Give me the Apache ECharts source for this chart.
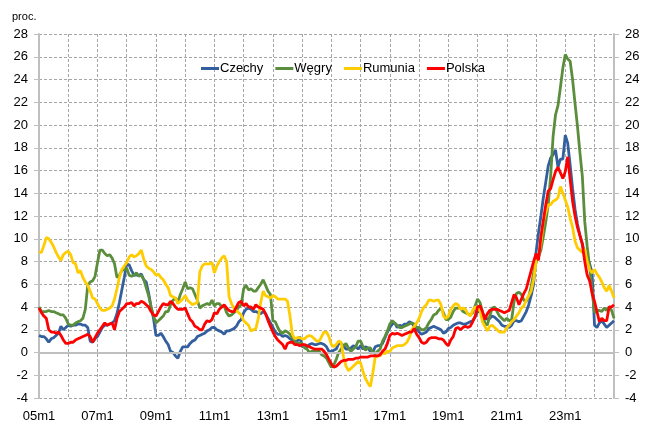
<!DOCTYPE html>
<html>
<head>
<meta charset="utf-8">
<script src="https://cdn.jsdelivr.net/npm/echarts@6/dist/echarts.min.js"></script>
<style>
html,body{margin:0;padding:0;background:#fff;}
#c{width:646px;height:435px;}
</style>
</head>
<body>
<div id="c"></div>
<script>
// Category labels: monthly, 2005m1 .. 2024m9
var startYear = 2005, endYear = 2024, endMonth = 9;
var categories = [];
for (var y = startYear; y <= endYear; y++) {
  for (var m = 1; m <= 12; m++) {
    if (y === endYear && m > endMonth) break;
    categories.push(String(y).slice(2) + 'm' + m);
  }
}

var yTicks = { min: -4, max: 28, step: 2 };

var czechy = [
  1.5, 1.4, 1.4, 1.2, 0.9, 1.2, 1.3, 1.5, 1.7, 2.3, 2.0, 2.2,
  2.4, 2.3, 2.4, 2.4, 2.5, 2.5, 2.4, 2.4, 2.2, 1.0, 0.9, 1.2,
  1.4, 1.8, 2.2, 2.4, 2.4, 2.5, 2.6, 2.8, 3.4, 4.4, 5.5, 6.6,
  7.8, 7.7, 7.2, 6.8, 6.8, 6.8, 6.9, 6.4, 6.2, 5.2, 4.0, 3.0,
  1.5, 1.5, 1.7, 1.4, 1.0, 0.7, 0.1, 0.0, -0.3, -0.5, 0.1, 0.5,
  0.5, 0.5, 0.8, 1.0, 1.1, 1.4, 1.5, 1.6, 1.7, 1.9, 2.0, 2.2,
  2.2, 2.0, 1.9, 1.8, 1.6, 1.9, 1.9, 2.0, 2.1, 2.3, 2.7, 2.9,
  3.5, 3.8, 3.9, 3.8, 3.6, 3.6, 3.5, 3.4, 3.6, 3.4, 3.0, 2.6,
  2.2, 1.8, 1.6, 1.6, 1.4, 1.5, 1.4, 1.2, 1.1, 0.9, 1.0, 1.4,
  0.5, 0.6, 0.5, 0.7, 0.8, 0.7, 0.7, 0.8, 0.8, 0.7, 0.5, 0.1,
  0.1, 0.2, 0.3, 0.8, 0.8, 0.6, 0.3, 0.3, 0.4, 0.6, 0.5, 0.3,
  0.6, 0.3, 0.5, 0.4, 0.1, 0.0, 0.5, 0.6, 0.6, 0.8, 1.3, 1.8,
  2.2, 2.5, 2.6, 2.2, 2.4, 2.3, 2.5, 2.5, 2.7, 2.6, 2.3, 2.1,
  1.8, 1.6, 1.7, 1.8, 2.1, 2.2, 2.3, 2.2, 2.1, 2.0, 1.7, 1.8,
  2.1, 2.2, 2.4, 2.5, 2.6, 2.6, 2.5, 2.5, 2.6, 2.7, 2.8, 3.1,
  3.6, 3.6, 3.4, 3.2, 2.9, 3.0, 3.2, 3.1, 2.9, 2.7, 2.4, 2.3,
  2.3, 2.2, 2.4, 2.8, 2.8, 2.7, 2.8, 3.2, 3.6, 4.2, 5.0, 6.0,
  8.8, 10.5, 12.0, 13.6, 15.0, 16.4, 17.1, 17.4, 17.8, 16.3, 17.0, 17.0,
  19.1, 18.4, 16.5, 14.4, 12.6, 11.3, 10.3, 9.6, 8.6, 8.4, 7.8, 7.0,
  2.4, 2.2, 2.6, 2.8, 2.5, 2.2, 2.4, 2.6, 2.8
];

var wegry = [
  4.0, 3.6, 3.6, 3.6, 3.7, 3.6, 3.6, 3.5, 3.4, 3.3, 3.3, 3.0,
  2.5, 2.4, 2.4, 2.6, 2.7, 2.8, 3.0, 3.8, 5.9, 6.2, 6.3, 6.7,
  7.9, 9.0, 9.0, 8.7, 8.5, 8.6, 8.3, 7.8, 6.6, 6.8, 7.2, 7.3,
  7.4, 6.8, 6.7, 6.8, 7.0, 6.7, 6.8, 6.4, 5.7, 5.0, 4.0, 3.2,
  2.6, 2.8, 3.0, 3.2, 3.6, 3.6, 4.2, 4.6, 4.8, 4.4, 5.1, 5.6,
  6.2, 5.6, 5.7, 5.6, 5.1, 4.6, 3.9, 4.1, 4.2, 4.3, 4.2, 4.6,
  4.1, 4.3, 4.3, 4.0, 4.1, 3.5, 3.2, 3.3, 3.5, 3.7, 4.0, 4.2,
  5.6, 5.9, 5.5, 5.6, 5.4, 5.4, 5.7, 6.0, 6.4, 5.9, 5.4, 5.1,
  2.8, 2.7, 2.2, 1.8, 1.7, 1.9, 1.8, 1.6, 1.3, 1.0, 0.8, 0.8,
  0.8, 0.4, 0.3, 0.0, 0.1, 0.1, 0.2, 0.1, -0.2, -0.3, -0.5, -0.9,
  -1.3, -1.1, -0.6, 0.0, 0.3, 0.6, 0.8, 0.4, 0.1, 0.3, 0.5, 1.0,
  1.0, 0.5, 0.2, 0.4, 0.4, 0.0, -0.1, 0.1, 0.3, 1.0, 1.4, 1.9,
  2.5, 2.8, 2.6, 2.4, 2.2, 2.2, 2.3, 2.4, 2.5, 2.6, 2.5, 2.2,
  2.2, 2.0, 2.0, 2.2, 2.6, 2.9, 3.3, 3.4, 3.7, 3.9, 3.5, 2.9,
  2.9, 3.1, 3.6, 3.9, 3.9, 3.9, 3.6, 3.5, 3.4, 3.3, 3.5, 4.1,
  4.7, 4.4, 3.6, 2.6, 2.4, 3.2, 3.9, 4.0, 3.6, 3.2, 3.0, 2.8,
  3.0, 2.8, 2.9, 4.5, 5.2, 5.3, 5.1, 4.6, 4.5, 4.9, 5.8, 7.0,
  7.9, 8.4, 9.0, 10.2, 11.5, 13.0, 15.5, 19.0, 20.9, 21.7, 23.3, 25.0,
  26.2, 25.8, 25.6, 24.0, 21.9, 19.9, 17.6, 15.5, 11.5, 9.3, 7.5, 5.5,
  3.5, 3.7, 3.7, 3.6, 3.9, 3.7, 4.0, 3.7, 3.0
];

var rumunia = [
  8.8, 8.8, 9.4, 10.1, 10.0, 9.7, 9.3, 8.8, 8.4, 8.1, 8.6, 8.8,
  8.9, 8.6, 7.9, 7.8, 7.0, 7.2, 6.6, 6.2, 5.9, 5.4, 4.8, 4.7,
  4.3, 3.9, 3.7, 3.7, 3.8, 3.9, 4.1, 4.7, 5.6, 6.6, 7.3, 7.6,
  7.9, 8.4, 8.6, 8.4, 8.5, 8.7, 9.0, 8.2, 7.6, 7.4, 7.3, 7.1,
  6.8, 6.9, 6.6, 6.4, 6.0, 5.7, 5.0, 4.9, 4.8, 4.3, 4.5, 4.7,
  5.0, 4.6, 4.4, 4.2, 4.3, 4.4, 7.1, 7.6, 7.8, 7.8, 7.8, 7.9,
  7.0, 7.6, 8.0, 8.3, 8.5, 8.0, 4.9, 4.3, 3.9, 3.7, 3.5, 3.3,
  2.8, 2.6, 2.4, 1.9, 2.0, 2.1, 3.0, 4.4, 5.4, 5.0, 4.9, 4.8,
  5.0, 4.9, 4.7, 4.7, 4.7, 4.7, 4.5, 3.2, 1.6, 1.2, 1.3, 1.3,
  1.2, 1.2, 1.4, 1.5, 1.4, 1.2, 1.0, 1.0, 1.4, 1.8, 1.8, 1.4,
  0.7, 0.5, 0.7, 1.0, 0.9, -0.4, -1.2, -1.6, -1.4, -1.2, -1.0, -0.8,
  -0.9, -1.7, -2.3, -2.7, -3.0, -1.8, -0.4, -0.3, -0.3, 0.0, -0.1, 0.1,
  0.1, 0.4, 0.5, 0.6, 0.6, 0.6, 0.7, 0.9, 1.3, 2.0, 2.3, 2.6,
  3.0, 3.6, 4.0, 4.2, 4.6, 4.6, 4.5, 4.6, 4.6, 4.2, 3.2, 3.0,
  3.2, 3.8, 4.1, 4.3, 4.2, 3.8, 3.9, 3.8, 3.4, 3.2, 3.7, 4.0,
  3.9, 3.7, 2.7, 2.3, 1.9, 2.3, 2.4, 2.2, 2.0, 1.8, 1.8, 1.8,
  2.2, 2.4, 2.7, 2.9, 3.2, 3.5, 3.9, 4.1, 4.6, 5.0, 5.4, 6.4,
  8.0, 8.5, 9.6, 11.5, 12.3, 13.0, 13.0, 13.3, 13.4, 13.6, 14.6, 14.0,
  13.4, 12.8, 11.8, 11.0, 9.8, 9.2, 9.0, 8.8, 9.1, 8.0, 7.3, 7.0,
  7.3, 6.9, 6.6, 6.2, 5.7, 5.4, 5.9, 5.4, 4.8
];

var polska = [
  3.9, 3.5, 3.2, 3.0, 2.0, 1.8, 1.8, 1.7, 1.8, 1.5, 1.1, 0.8,
  0.8, 0.9, 0.9, 1.1, 1.2, 1.3, 1.4, 1.5, 1.6, 1.4, 0.9, 1.3,
  1.7, 2.0, 2.3, 2.6, 2.4, 2.5, 2.6, 2.0, 3.0, 3.6, 3.8, 4.0,
  4.3, 4.3, 4.4, 4.1, 4.3, 4.3, 4.5, 4.4, 4.2, 4.0, 3.6, 3.3,
  3.2, 3.6, 4.0, 4.3, 4.2, 4.2, 4.5, 4.3, 4.0, 3.8, 3.8, 3.8,
  3.9, 3.4, 2.9, 2.7, 2.3, 2.2, 2.0, 2.0, 2.5, 2.8, 2.7, 2.9,
  3.5, 3.4, 3.8, 4.0, 4.2, 3.9, 3.7, 3.6, 3.6, 4.0, 4.4, 4.5,
  4.1, 4.3, 4.0, 4.0, 3.8, 4.2, 4.0, 3.9, 3.8, 3.4, 2.8, 2.3,
  1.8, 1.4, 1.1, 0.9, 0.7, 0.3, 0.8, 0.9, 0.9, 0.7, 0.7, 0.6,
  0.7, 0.7, 0.6, 0.5, 0.4, 0.3, 0.3, 0.3, 0.3, 0.1, -0.2, -0.6,
  -1.0, -1.3, -1.2, -1.0, -0.8, -0.7, -0.7, -0.6, -0.6, -0.6, -0.5, -0.5,
  -0.4, -0.4, -0.4, -0.4, -0.3, -0.3, -0.3, -0.3, -0.2, 0.1, 0.3, 0.8,
  1.5, 1.7, 1.6, 1.7, 1.6, 1.5, 1.6, 1.7, 1.8, 1.8, 2.1, 1.6,
  1.3, 0.9, 0.8, 0.9, 1.2, 1.3, 1.3, 1.3, 1.2, 1.2, 1.1, 0.8,
  0.6, 1.1, 1.4, 2.1, 2.2, 2.0, 2.2, 2.3, 2.2, 2.3, 2.7, 3.2,
  4.0, 4.1, 3.6, 2.9, 3.4, 3.7, 3.8, 3.8, 3.8, 3.7, 3.6, 3.5,
  3.6, 3.7, 4.4, 5.1, 4.8, 4.2, 4.7, 5.2, 5.6, 6.4, 7.2, 8.0,
  8.7, 8.1, 10.2, 11.6, 13.0, 14.2, 14.4, 15.2, 15.9, 16.3, 15.8, 15.3,
  15.9, 17.2, 15.2, 13.3, 12.0, 11.0, 10.3, 9.5, 8.0, 6.8, 6.3, 5.2,
  4.5, 3.6, 2.7, 3.0, 2.8, 2.8, 4.0, 4.0, 4.2
];

var seriesNames = ['Czechy', 'Węgry', 'Rumunia', 'Polska'];
var seriesColors = ['#335f9e', '#5b8e3c', '#ffcc00', '#ff0000'];
var seriesData = [czechy, wegry, rumunia, polska];

var FONT = '"Liberation Sans", Arial, sans-serif';
var chart = echarts.init(document.getElementById('c'), null, { renderer: 'canvas' });

var yAxisBase = {
  type: 'value',
  min: yTicks.min, max: yTicks.max, interval: yTicks.step,
  axisLine: { show: true, lineStyle: { color: '#bfbfbf', width: 2 } },
  axisTick: { show: true, length: 5, lineStyle: { color: '#bfbfbf' } },
  axisLabel: { color: '#000', fontSize: 13, fontFamily: FONT, margin: 11 }
};

var series = seriesNames.map(function (n, i) {
  return {
    name: n, type: 'line', data: seriesData[i], symbol: 'none',
    showSymbol: false, smooth: false, z: 3 + i,
    lineStyle: { color: seriesColors[i], width: 2.8 },
    itemStyle: { color: seriesColors[i] }
  };
});
series.unshift({
  name: 'zero', type: 'line', data: [], z: 1, silent: true,
  markLine: {
    silent: true, symbol: ['none', 'none'],
    label: { show: false },
    lineStyle: { color: '#bfbfbf', width: 2, type: 'solid' },
    data: [{ yAxis: 0 }]
  }
});

chart.setOption({
  animation: false,
  backgroundColor: '#fff',
  grid: { left: 39, right: 32, top: 34, bottom: 37, containLabel: false },
  legend: {
    data: seriesNames,
    left: 196, top: 57,
    icon: 'rect',
    itemWidth: 18, itemHeight: 3, itemGap: 12,
    textStyle: { color: '#000', fontSize: 13, fontFamily: FONT, padding: [0, 0, 0, -4] }
  },
  graphic: [{
    type: 'text', left: 12, top: 11,
    style: { text: 'proc.', fill: '#000', font: '11px ' + FONT }
  }],
  xAxis: {
    type: 'category', data: categories, boundaryGap: false,
    axisLine: { show: false },
    axisTick: { show: false },
    axisLabel: { interval: 23, color: '#000', fontSize: 13, fontFamily: FONT, margin: 12 },
    splitLine: { show: true, interval: 11, lineStyle: { color: '#a6a6a6', type: [3, 2], width: 1 } }
  },
  yAxis: [
    Object.assign({}, yAxisBase, {
      position: 'left',
      splitLine: { show: true, lineStyle: { color: '#a6a6a6', type: [3, 2], width: 1 } }
    }),
    Object.assign({}, yAxisBase, { position: 'right', splitLine: { show: false } })
  ],
  series: series
});
</script>
</body>
</html>
